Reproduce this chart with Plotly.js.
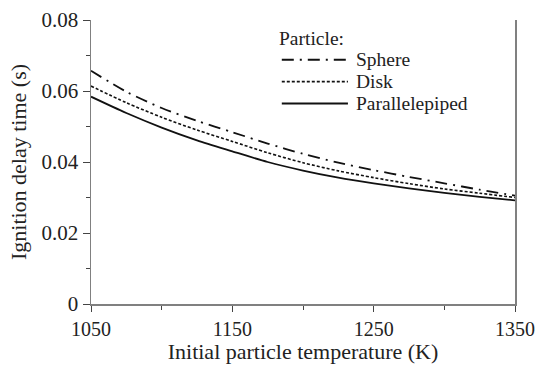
<!DOCTYPE html>
<html>
<head>
<meta charset="utf-8">
<script src="https://cdn.plot.ly/plotly-3.0.1.min.js"></script>
<style>html,body{margin:0;padding:0;background:#fff;}#chart{width:537px;height:365px;}</style>
</head>
<body>
<div id="chart"></div>
<script>
const temperature = [1050, 1075, 1100, 1125, 1150, 1175, 1200, 1225, 1250, 1275, 1300, 1325, 1350];
const sphere = [0.0657, 0.0598, 0.0552, 0.0516, 0.0484, 0.0452, 0.0423, 0.0398, 0.0377, 0.0358, 0.0340, 0.0322, 0.0305];
const disk = [0.0614, 0.0567, 0.0526, 0.0490, 0.0458, 0.0426, 0.0398, 0.0375, 0.0356, 0.0339, 0.0324, 0.0312, 0.0300];
const parallelepiped = [0.0584, 0.0538, 0.0497, 0.0461, 0.0430, 0.0400, 0.0376, 0.0356, 0.0340, 0.0326, 0.0313, 0.0302, 0.0292];
const seriesNames = ["Sphere", "Disk", "Parallelepiped"];
const legendTitle = "Particle:";
const xTitle = "Initial particle temperature (K)";
const yTitle = "Ignition delay time (s)";

const FONT = "Liberation Serif, Times New Roman, serif";
const dashes = ["12px,6px,2px,6px", "3px,2px", "solid"];
const seriesData = [sphere, disk, parallelepiped];

const traces = seriesData.map((ys, i) => ({
  x: temperature, y: ys, type: 'scatter', mode: 'lines', name: seriesNames[i],
  line: {color: '#111', width: i === 1 ? 1.6 : 1.8, dash: dashes[i], shape: 'spline', smoothing: 0.8},
  showlegend: false
}));

// Manual legend (paper coords)
const legX0 = 0.450, legX1 = 0.606, legTextX = 0.622;
const legRows = [0.860, 0.783, 0.706];
const shapes = seriesNames.map((n, i) => ({
  type: 'line', xref: 'paper', yref: 'paper', x0: legX0, x1: legX1, y0: legRows[i], y1: legRows[i],
  line: {color: '#111', width: i === 1 ? 1.6 : 1.8, dash: dashes[i]}
}));
const annotations = seriesNames.map((n, i) => ({
  xref: 'paper', yref: 'paper', x: legTextX, y: legRows[i], text: n, showarrow: false,
  xanchor: 'left', yanchor: 'middle', borderpad: 0,
  font: {family: FONT, size: 19.5, color: '#222'}
}));
annotations.push({
  xref: 'paper', yref: 'paper', x: 0.441, y: 0.935, text: legendTitle, showarrow: false,
  xanchor: 'left', yanchor: 'middle', borderpad: 0,
  font: {family: FONT, size: 19.5, color: '#222'}
});

const layout = {
  width: 537, height: 365,
  margin: {l: 91, r: 22, t: 20, b: 61},
  paper_bgcolor: '#fff', plot_bgcolor: '#fff',
  font: {family: FONT, size: 20, color: '#222'},
  showlegend: false,
  xaxis: {
    range: [1050, 1350], tick0: 1050, dtick: 100, showgrid: false, zeroline: false,
    showline: true, linecolor: '#808080', linewidth: 1.5, mirror: false,
    ticks: 'outside', ticklen: 6, tickcolor: '#444', tickwidth: 1,
    minor: {dtick: 50, ticks: 'outside', ticklen: 4, tickcolor: '#444', showgrid: false},
    tickfont: {family: FONT, size: 20, color: '#222'},
    title: {text: xTitle, font: {family: FONT, size: 22, color: '#222'}, standoff: 4},
    automargin: false
  },
  yaxis: {
    range: [0, 0.08], dtick: 0.02, showgrid: false, zeroline: false,
    showline: true, linecolor: '#808080', linewidth: 1.5, mirror: true,
    ticks: 'outside', ticklen: 7, tickcolor: '#444', tickwidth: 1,
    minor: {dtick: 0.01, ticks: 'outside', ticklen: 4, tickcolor: '#444', showgrid: false},
    tickfont: {family: FONT, size: 21, color: '#222'},
    title: {text: yTitle, font: {family: FONT, size: 22, color: '#222'}, standoff: 9},
    automargin: false
  },
  shapes: shapes,
  annotations: annotations
};

Plotly.newPlot('chart', traces, layout, {displayModeBar: false, staticPlot: true});
</script>
</body>
</html>
